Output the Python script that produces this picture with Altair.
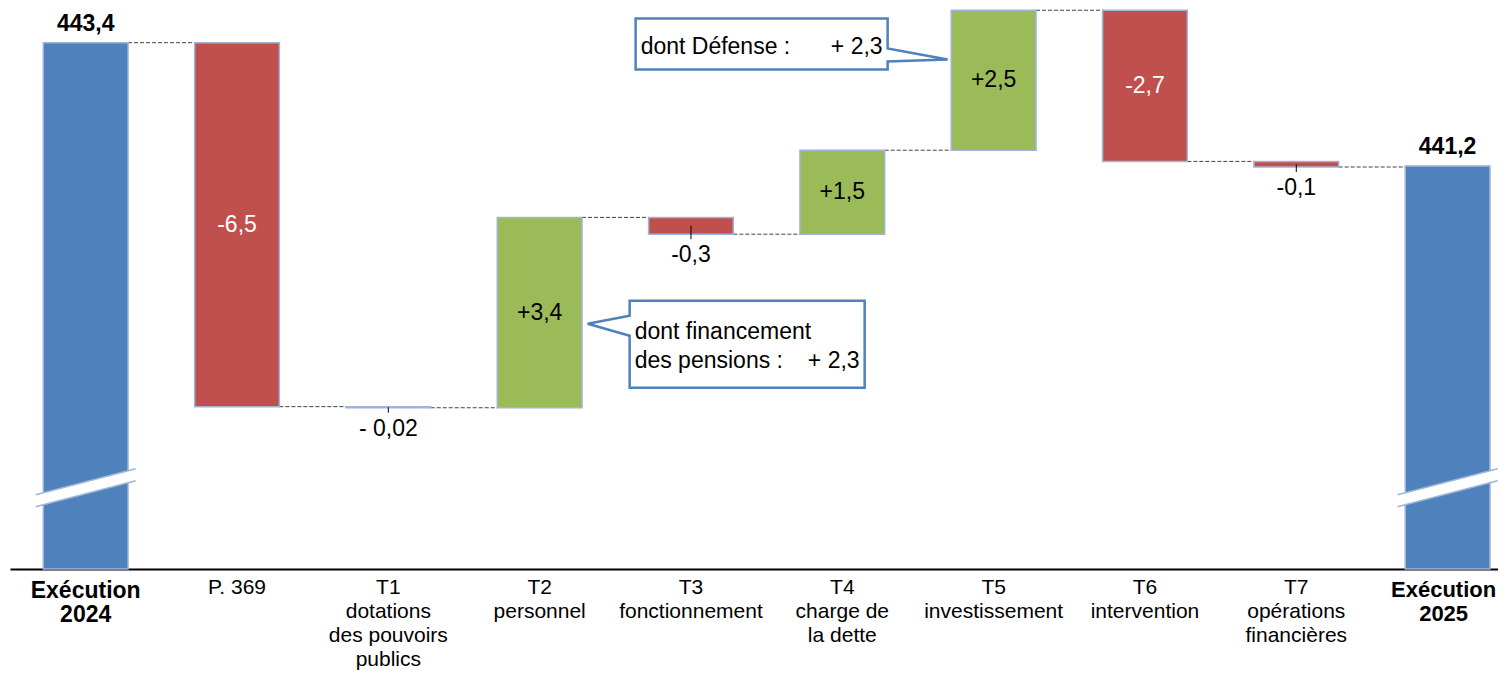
import altair as alt
import pandas as pd

FONT = "Liberation Sans"

categories = ["Exécution\n2024", "P. 369", "T1\ndotations\ndes pouvoirs\npublics",
              "T2\npersonnel", "T3\nfonctionnement", "T4\ncharge de\nla dette",
              "T5\ninvestissement", "T6\nintervention", "T7\nopérations\nfinancières",
              "Exécution\n2025"]
amounts = [443.4, -6.5, -0.02, 3.4, -0.3, 1.5, 2.5, -2.7, -0.1, 441.2]
kinds = ["total", "neg", "neg", "pos", "neg", "pos", "pos", "neg", "neg", "total"]
value_labels = ["443,4", "-6,5", "- 0,02", "+3,4", "-0,3", "+1,5", "+2,5", "-2,7", "-0,1", "441,2"]
label_place = ["above", "inside", "below", "inside", "below", "inside", "inside", "inside", "below", "above"]
label_colors = ["black", "white", "black", "black", "black", "black", "black", "white", "black", "black"]

Y_MIN, Y_MAX = 434.0, 444.02
BREAK_LEVEL = 435.45

callout_def_cat = "T5\ninvestissement"
callout_def_level = 443.1
callout_pen_cat = "T2\npersonnel"
callout_pen_level = 438.38

# ---- build tables
rows = []
running = 0.0
for c, a, k, lab, pl, lc in zip(categories, amounts, kinds, value_labels, label_place, label_colors):
    if k == "total":
        start, end = Y_MIN, a
        running = a
    else:
        start, end = running, running + a
        running = end
    rows.append(dict(cat=c, start=start, end=end, mid=(start + end) / 2,
                     low=min(start, end), high=max(start, end),
                     kind=k, label=lab, place=pl, lcolor=lc))
bars = pd.DataFrame(rows)

conn = pd.DataFrame([dict(cat=rows[i]["cat"], nxt=rows[i + 1]["cat"], level=rows[i]["end"])
                     for i in range(len(rows) - 1)])
breaks = pd.DataFrame([dict(cat=r["cat"], level=BREAK_LEVEL) for r in rows if r["kind"] == "total"])
cdef = pd.DataFrame([dict(cat=callout_def_cat, level=callout_def_level)])
cpen = pd.DataFrame([dict(cat=callout_pen_cat, level=callout_pen_level)])

x_scale = alt.Scale(domain=categories, paddingInner=0.44, paddingOuter=0.1365, align=0.806)
y_scale = alt.Scale(domain=[Y_MIN, Y_MAX], zero=False, nice=False)

bold_test = "indexof(datum.value, 'Exécution') >= 0"
last_test = "indexof(datum.value, '2025') >= 0"
x_axis = alt.Axis(
    title=None, labelAngle=0, ticks=False, tickSize=0,
    labelPadding={"condition": {"test": bold_test, "value": 10}, "value": 7},
    labelOffset={"condition": {"test": last_test, "value": -4}, "value": 0},
    domainColor="black", domainWidth=2, labelColor="black", labelFont=FONT,
    labelFontSize={"condition": [{"test": last_test, "value": 22},
                                 {"test": bold_test, "value": 23}], "value": 21},
    labelFontWeight={"condition": {"test": bold_test, "value": "bold"}, "value": "normal"},
    labelLineHeight=24, labelExpr="split(datum.label, '\\n')",
    labelOverlap=False, labelLimit=0, grid=False,
)

def X():
    return alt.X("cat:N", scale=x_scale, axis=x_axis)

def Y(field):
    return alt.Y(field, type="quantitative", scale=y_scale, axis=None)

HALF_BAND = 42.37

bar_layer = alt.Chart(bars).mark_bar(stroke="#9EB4D8", strokeWidth=1.5).encode(
    x=X(), y=Y("start"), y2="end",
    color=alt.Color("kind:N", scale=alt.Scale(domain=["total", "neg", "pos"],
                                               range=["#4F81BD", "#C0504D", "#9BBB59"]), legend=None),
)

conn_layer = alt.Chart(conn).mark_rule(color="#404040", strokeWidth=1, strokeDash=[4, 2],
                                       xOffset=HALF_BAND, x2Offset=-HALF_BAND).encode(
    x=X(), x2="nxt:N", y=Y("level"),
)

break_fill = alt.Chart(breaks).mark_point(
    shape="M-50,7L50,-19L50,-7L-50,19Z", size=4, filled=True, fill="white",
    strokeWidth=0, opacity=1,
).encode(x=X(), y=Y("level"))
break_lines = alt.Chart(breaks).mark_point(
    shape="M-50,7L50,-19M-50,19L50,-7", size=4, filled=False, stroke="#9EB4D8",
    strokeWidth=1.5, opacity=1,
).encode(x=X(), y=Y("level"))

tick_layer = alt.Chart(bars).transform_filter("datum.place == 'below'").mark_rule(
    color="black", strokeWidth=1, y2Offset=5).encode(x=X(), y=Y("mid"), y2="low")

txt_above = alt.Chart(bars).transform_filter("datum.place == 'above'").mark_text(
    font=FONT, fontSize=23, fontWeight="bold", baseline="middle", dy=-19, color="black"
).encode(x=X(), y=Y("high"), text="label:N")
txt_inside = alt.Chart(bars).transform_filter("datum.place == 'inside'").mark_text(
    font=FONT, fontSize=23, baseline="middle"
).encode(x=X(), y=Y("mid"), text="label:N", color=alt.Color("lcolor:N", scale=None))
txt_below = alt.Chart(bars).transform_filter("datum.place == 'below'").mark_text(
    font=FONT, fontSize=23, baseline="middle", dy=21, color="black"
).encode(x=X(), y=Y("low"), text="label:N")

def_shape = "M-358,-41L-106,-41L-106,-11L-46,0L-106,2L-106,10L-358,10Z"
pen_shape = "M90,-23L325,-23L325,64L90,64L90,12L48,0L90,-8Z"

def_box = alt.Chart(cdef).mark_point(
    shape=def_shape, size=4, filled=True, fill="white", stroke="#4F81BD",
    strokeWidth=2.5, opacity=1).encode(x=X(), y=Y("level"))
pen_box = alt.Chart(cpen).mark_point(
    shape=pen_shape, size=4, filled=True, fill="white", stroke="#4F81BD",
    strokeWidth=2.5, opacity=1).encode(x=X(), y=Y("level"))

def_t1 = alt.Chart(cdef).mark_text(font=FONT, fontSize=23, align="left", baseline="middle",
                                   dx=-353, dy=-13, color="black", text="dont Défense :"
                                   ).encode(x=X(), y=Y("level"))
def_t2 = alt.Chart(cdef).mark_text(font=FONT, fontSize=23, align="right", baseline="middle",
                                   dx=-111, dy=-13, color="black", text="+ 2,3"
                                   ).encode(x=X(), y=Y("level"))
pen_t1 = alt.Chart(cpen).mark_text(font=FONT, fontSize=23, align="left", baseline="middle",
                                   dx=95, dy=8, color="black", text="dont financement"
                                   ).encode(x=X(), y=Y("level"))
pen_t2 = alt.Chart(cpen).mark_text(font=FONT, fontSize=23, align="left", baseline="middle",
                                   dx=95, dy=37, color="black", text="des pensions :"
                                   ).encode(x=X(), y=Y("level"))
pen_t3 = alt.Chart(cpen).mark_text(font=FONT, fontSize=23, align="right", baseline="middle",
                                   dx=320, dy=37, color="black", text="+ 2,3"
                                   ).encode(x=X(), y=Y("level"))

chart = alt.layer(
    conn_layer, bar_layer, break_fill, break_lines, tick_layer,
    txt_above, txt_inside, txt_below,
    def_box, pen_box, def_t1, def_t2, pen_t1, pen_t2, pen_t3,
).properties(
    width=1488, height=561, autosize="none", background="white",
    padding={"left": 2, "top": 0, "right": 0, "bottom": 102},
).configure_view(stroke=None)

chart.save("out.html", embed_options={"renderer": "svg", "actions": False})
